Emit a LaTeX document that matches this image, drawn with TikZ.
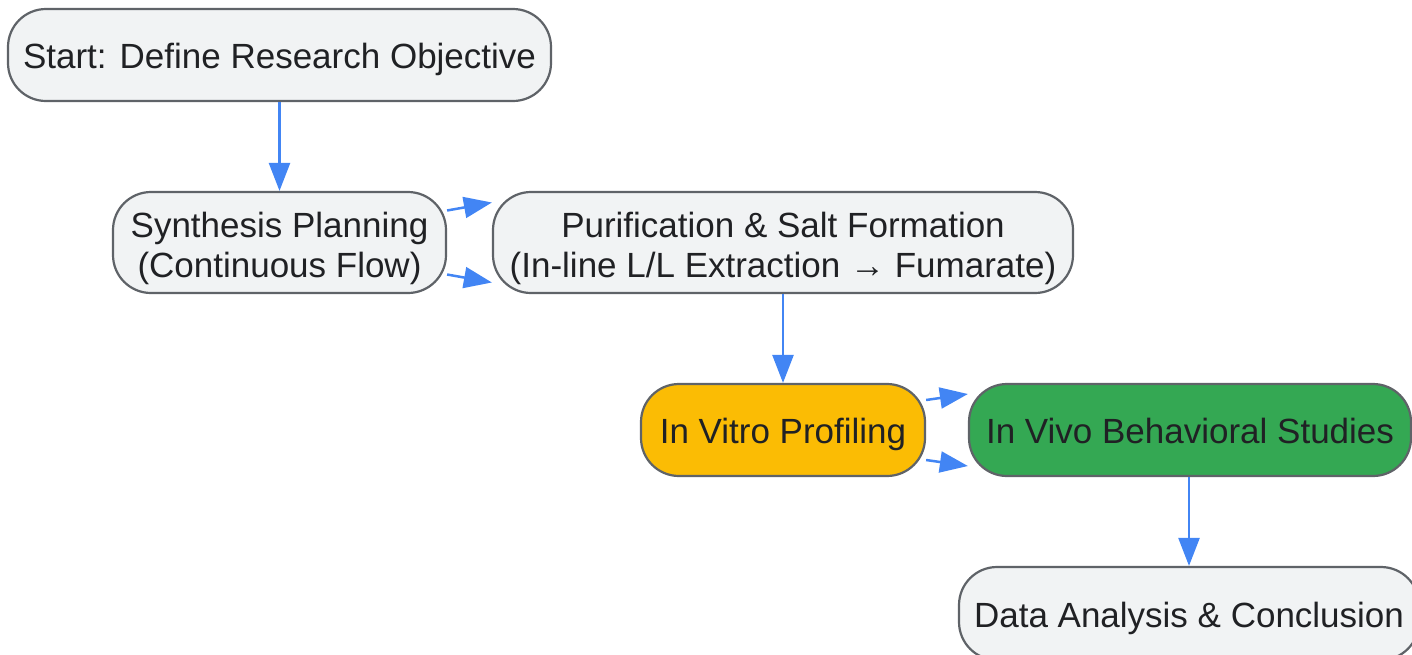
\documentclass[tikz,border=0pt]{standalone}
\usepackage{fontspec}
\setmainfont{Liberation Sans}
\usetikzlibrary{arrows.meta,calc}
\definecolor{boxfill}{HTML}{F1F3F4}
\definecolor{boxline}{HTML}{5F6368}
\definecolor{arrowblue}{HTML}{4285F4}
\definecolor{txt}{HTML}{202124}
\definecolor{yel}{HTML}{FBBC04}
\definecolor{grn}{HTML}{34A853}
\begin{document}
\begin{tikzpicture}[x=1pt,y=-1pt,
  box/.style={draw=boxline, line width=2.2pt, fill=boxfill, rounded corners=38pt, inner sep=0pt},
  lbl/.style={text=txt, anchor=base, inner sep=0pt, font=\fontsize{35}{40}\selectfont},
  conn/.style={draw=arrowblue, line width=2.5pt, -{Triangle[length=28pt,width=21pt]}}
]
\useasboundingbox (0,0) rectangle (1412,654);
\node[box, minimum width=543pt, minimum height=92pt] (start) at (279.5,55) {};
\node[box, minimum width=333pt, minimum height=101pt] (syn) at (279.5,242.5) {};
\node[box, minimum width=580pt, minimum height=101pt] (pur) at (783,242.5) {};
\node[box, fill=yel, minimum width=284pt, minimum height=92pt] (vitro) at (783,430) {};
\node[box, fill=grn, minimum width=442pt, minimum height=92pt] (vivo) at (1190,430) {};
\node[box, minimum width=460pt, minimum height=93pt] (data) at (1189,613.5) {};
\node[lbl] (startT) at ([yshift=-13.5pt]start.center) {Start: Define Research Objective};
\node[lbl] (synT1) at ([yshift=5.5pt]syn.center) {Synthesis Planning};
\node[lbl] (synT2) at ([yshift=-34.5pt]syn.center) {(Continuous Flow)};
\node[lbl] (purT1) at ([yshift=5.5pt]pur.center) {Purification \& Salt Formation};
\node[lbl] (purT2) at ([yshift=-34.5pt]pur.center) {(In-line L/L Extraction \textrightarrow\ Fumarate)};
\node[lbl] (vitroT) at ([yshift=-13.5pt]vitro.center) {In Vitro Profiling};
\node[lbl] (vivoT) at ([yshift=-13.5pt]vivo.center) {In Vivo Behavioral Studies};
\node[lbl] (dataT) at ([yshift=-13.5pt]data.center) {Data Analysis \& Conclusion};
\draw[conn] (start.south) -- (syn.north);
\draw[conn] ([yshift=32pt]syn.east) -- ([yshift=40pt]pur.west);
\draw[conn] ([yshift=-32pt]syn.east) -- ([yshift=-40pt]pur.west);
\draw[conn] (pur.south) -- (vitro.north);
\draw[conn] ([yshift=30pt]vitro.east) -- ([yshift=36pt]vivo.west);
\draw[conn] ([yshift=-30pt]vitro.east) -- ([yshift=-36pt]vivo.west);
\draw[conn] (vivo.south -| data.north) -- (data.north);
\end{tikzpicture}
\end{document}
